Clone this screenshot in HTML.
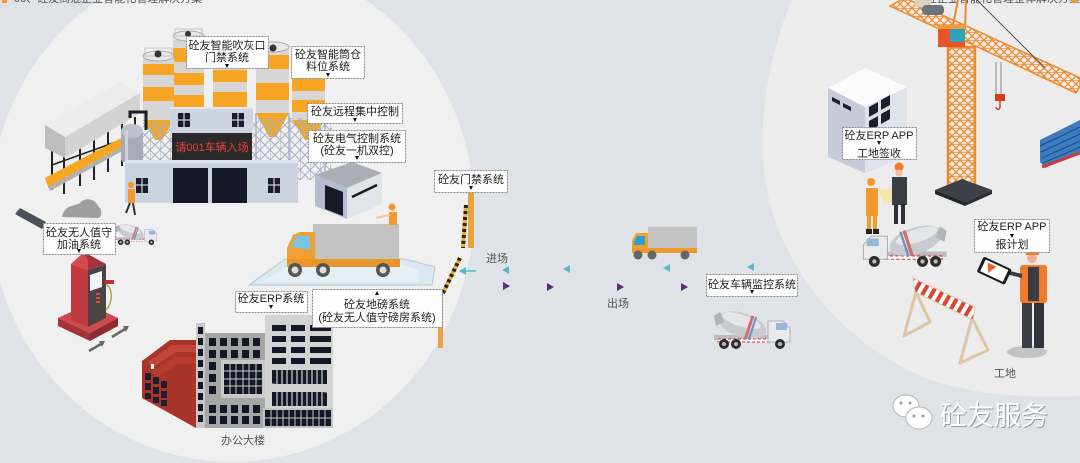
<!DOCTYPE html>
<html><head><meta charset="utf-8"><style>
html,body{margin:0;padding:0;background:#dfe2e6;}
svg{display:block;}
</style></head><body>
<svg width="1080" height="463" viewBox="0 0 1080 463" xmlns="http://www.w3.org/2000/svg" font-family="'Liberation Sans','Noto Sans CJK SC',sans-serif">
<defs>
<pattern id="lat" width="8" height="8" patternUnits="userSpaceOnUse"><path d="M0,0 L8,8 M8,0 L0,8 M0,0 L8,0" stroke="#ef8a2c" stroke-width="1.3" fill="none"/></pattern>
<pattern id="sl" width="10" height="10" patternUnits="userSpaceOnUse"><path d="M0,0 L10,10 M10,0 L0,10 M0,0 L0,10" stroke="#a3b0c5" stroke-width="1" fill="none"/></pattern>
<pattern id="rw" width="8" height="8" patternUnits="userSpaceOnUse" patternTransform="rotate(30)"><rect width="8" height="8" fill="#fff"/><rect width="4" height="8" fill="#d9452e"/></pattern>
<symbol id="mixer" viewBox="0 0 84 42">
  <rect x="4" y="27" width="74" height="5" fill="#b9bcc0"/>
  <rect x="8" y="31" width="52" height="3" fill="#fff" stroke="#d33" stroke-width="1" stroke-dasharray="3,2"/>
  <g transform="rotate(18 32 17)">
    <ellipse cx="32" cy="17" rx="25" ry="12" fill="#c8cbcf"/>
    <ellipse cx="30" cy="13" rx="20" ry="6" fill="#e4e6e8"/>
    <rect x="38" y="5" width="3" height="24" fill="#d86a6a"/>
    <rect x="42" y="5" width="2" height="24" fill="#6a8ec6"/>
  </g>
  <path d="M4,8 L10,4 L14,14 L6,18 Z" fill="#b0b3b7"/>
  <path d="M58,13 L73,13 L80,21 L80,34 L58,34 Z" fill="#e9eaec" stroke="#a3a6aa" stroke-width="0.8"/>
  <rect x="66" y="15" width="11" height="7" fill="#93b8d8"/>
  <circle cx="14" cy="36" r="5" fill="#2d2d2d"/><circle cx="14" cy="36" r="2" fill="#bbb"/>
  <circle cx="26" cy="36" r="5" fill="#2d2d2d"/><circle cx="26" cy="36" r="2" fill="#bbb"/>
  <circle cx="70" cy="36" r="5" fill="#2d2d2d"/><circle cx="70" cy="36" r="2" fill="#bbb"/>
</symbol>
</defs>

<rect width="1080" height="463" fill="#dfe2e6"/>
<ellipse cx="232" cy="210" rx="242" ry="252" fill="#f1f0f0"/>
<path d="M792,0 C770,50 758,120 764,170 C772,250 830,340 930,380 C980,396 1030,398 1080,396 L1080,0Z" fill="#ececec"/>

<!-- top partial titles -->
<rect x="2" y="-2" width="5" height="5" fill="#f29a2e"/>
<text x="14" y="2" font-size="11" fill="#555">06、砼友商混企业智能化管理解决方案</text>
<text x="915" y="2" font-size="11" fill="#555">商砼企业智能化管理整体解决方案(下)</text>
<rect x="1072" y="-2" width="5" height="5" fill="#f29a2e"/>

<!-- conveyor / aggregate shed -->
<g stroke="#222" stroke-width="2">
  <line x1="52" y1="148" x2="52" y2="190"/><line x1="64" y1="156" x2="64" y2="194"/>
  <line x1="80" y1="148" x2="80" y2="186"/><line x1="94" y1="140" x2="94" y2="180"/>
  <line x1="108" y1="132" x2="108" y2="172"/><line x1="122" y1="124" x2="122" y2="166"/>
  <line x1="135" y1="117" x2="135" y2="160"/>
  <line x1="52" y1="165" x2="135" y2="135" stroke-width="1.5"/>
</g>
<polygon points="45,178 140,128 142,136 48,187" fill="#f5a623"/>
<polygon points="48,187 142,136 142,140 50,191" fill="#b0b0b0"/>
<polygon points="45,125 120,82 140,93 65,137" fill="#ececec"/>
<polygon points="65,137 140,93 140,113 65,158" fill="#d3d3d3"/>
<polygon points="45,125 65,137 65,158 45,148" fill="#bdbdbd"/>

<!-- silos -->
<g>
  <rect x="173" y="40" width="31" height="70" fill="#d6d6d6"/>
  <rect x="173" y="48" width="31" height="14" fill="#f6a623"/>
  <rect x="173" y="73" width="31" height="12" fill="#f6a623"/>
  <rect x="173" y="95" width="31" height="14" fill="#f6a623"/>
  <ellipse cx="188.5" cy="36" rx="15.5" ry="5" fill="#e8e8e8" stroke="#aaa"/>
  <rect x="175" y="29" width="27" height="7" fill="none" stroke="#bbb" stroke-width="0.8"/>
  <circle cx="188" cy="34" r="3" fill="#333"/>
  <rect x="213" y="62" width="34" height="50" fill="#d6d6d6"/>
  <rect x="213" y="70" width="34" height="12" fill="#f6a623"/>
  <rect x="213" y="92" width="34" height="16" fill="#f6a623"/>
  <rect x="143" y="58" width="31" height="62" fill="#d6d6d6"/>
  <rect x="143" y="64" width="31" height="11" fill="#f6a623"/>
  <rect x="143" y="87" width="31" height="14" fill="#f6a623"/>
  <polygon points="143,120 174,120 162,140 155,140" fill="#f6a623"/>
  <ellipse cx="158.5" cy="56" rx="15.5" ry="5" fill="#e8e8e8" stroke="#aaa"/>
  <rect x="145" y="48" width="27" height="8" fill="none" stroke="#bbb" stroke-width="0.8"/>
  <circle cx="158" cy="54" r="3.5" fill="#333"/>
  <rect x="143" y="122" width="31" height="38" fill="url(#sl)"/>
  <rect x="256" y="48" width="33" height="65" fill="#d6d6d6"/>
  <rect x="256" y="55" width="33" height="14" fill="#f6a623"/>
  <rect x="256" y="83" width="33" height="17" fill="#f6a623"/>
  <polygon points="256,113 289,113 276,137 269,137" fill="#f6a623"/>
  <ellipse cx="272.5" cy="47" rx="16.5" ry="5" fill="#e8e8e8" stroke="#aaa"/>
  <circle cx="273" cy="48" r="3.5" fill="#333"/>
  <rect x="292" y="70" width="33" height="50" fill="#d6d6d6"/>
  <rect x="292" y="78" width="33" height="13" fill="#f6a623"/>
  <rect x="292" y="100" width="33" height="12" fill="#f6a623"/>
  <polygon points="292,120 325,120 312,140 305,140" fill="#f6a623"/>
  <rect x="250" y="118" width="82" height="62" fill="url(#sl)"/>
  <line x1="256" y1="113" x2="256" y2="178" stroke="#a3b0c5" stroke-width="1.5"/>
  <line x1="289" y1="113" x2="289" y2="178" stroke="#a3b0c5" stroke-width="1.5"/>
  <line x1="325" y1="120" x2="325" y2="182" stroke="#a3b0c5" stroke-width="1.5"/>
</g>

<!-- tank & pipes -->
<path d="M130,118 L130,112 L146,112 L146,130" stroke="#1e1e1e" stroke-width="3" fill="none"/>
<rect x="121" y="130" width="22" height="32" rx="3" fill="#a9aab8"/>
<ellipse cx="132" cy="131" rx="11" ry="7" fill="#c0c1cd"/>
<rect x="125" y="130" width="3" height="30" fill="#cfd0da"/>

<!-- control building -->
<rect x="170" y="107" width="83" height="26" fill="#cdd5e1"/>
<rect x="170" y="107" width="83" height="2" fill="#e2e7ef"/>
<g fill="#1a1c2c">
  <rect x="178" y="113" width="12" height="14"/><rect x="232" y="113" width="12" height="14"/>
</g>
<g stroke="#cdd5e1" stroke-width="1.2">
  <line x1="184" y1="113" x2="184" y2="127"/><line x1="178" y1="120" x2="190" y2="120"/>
  <line x1="238" y1="113" x2="238" y2="127"/><line x1="232" y1="120" x2="244" y2="120"/>
</g>
<rect x="172" y="133" width="80" height="27" fill="#2a2a2a"/>
<text x="212" y="151" font-size="11" fill="#e8423d" text-anchor="middle">请001车辆入场</text>

<!-- main building -->
<rect x="125" y="160" width="173" height="43" fill="#cbd3df"/>
<rect x="125" y="160" width="173" height="3" fill="#dfe5ee"/>
<rect x="173" y="168" width="35" height="35" fill="#141828"/>
<rect x="212" y="168" width="35" height="35" fill="#141828"/>
<rect x="136" y="178" width="12" height="15" fill="#1a1c2c"/>
<rect x="268" y="178" width="12" height="15" fill="#1a1c2c"/>
<g stroke="#cbd3df" stroke-width="1.2">
  <line x1="142" y1="178" x2="142" y2="193"/><line x1="136" y1="185" x2="148" y2="185"/>
  <line x1="274" y1="178" x2="274" y2="193"/><line x1="268" y1="185" x2="280" y2="185"/>
</g>

<!-- shed -->
<polygon points="315,175 352,162 382,173 347,188" fill="#abaeb5"/>
<polygon points="315,175 347,188 347,219 315,206" fill="#b5bccf"/>
<polygon points="347,188 382,173 382,204 347,219" fill="#e0e4eb"/>
<polygon points="325,185 343,192 343,216 325,209" fill="#161a28"/>
<line x1="352" y1="197" x2="377" y2="185" stroke="#1a1a1a" stroke-width="2.5"/>

<!-- worker near plant -->
<g>
  <circle cx="131" cy="185" r="3.2" fill="#f29a2e"/>
  <rect x="128" y="189" width="7" height="14" fill="#f29a2e"/>
  <line x1="130" y1="203" x2="126" y2="213" stroke="#333" stroke-width="2"/>
  <line x1="133" y1="203" x2="135" y2="215" stroke="#333" stroke-width="2"/>
</g>

<!-- rubble & beam -->
<path d="M62,217 C64,205 75,206 80,203 C86,196 96,200 98,206 C103,210 102,217 98,218 Z" fill="#9e9e9e"/>
<polygon points="15,214 20,208 46,222 42,229" fill="#4b4f58"/>

<!-- small mixer near fuel -->
<use href="#mixer" x="113" y="222" width="46" height="24"/>

<!-- fuel pump -->
<polygon points="58,318 88,304 118,318 90,333" fill="#cf4a4c"/>
<polygon points="58,318 90,333 90,341 58,326" fill="#a8323a"/>
<polygon points="90,333 118,318 118,326 90,341" fill="#8e2a30"/>
<polygon points="71,264 88,270 88,327 71,320" fill="#c0393f"/>
<polygon points="88,270 106,264 106,318 88,327" fill="#4a4444"/>
<polygon points="71,264 84,252 88,262 88,270" fill="#d44a4e"/>
<polygon points="84,252 106,264 88,270 88,262" fill="#a8323a"/>
<polygon points="90,275 102,271 102,287 90,291" fill="#f4f4f4"/>
<g fill="#e04a4a"><rect x="96" y="293" width="4" height="2"/><rect x="96" y="297" width="4" height="2"/><rect x="96" y="301" width="4" height="2"/></g>
<path d="M106,284 C114,290 112,304 106,310" stroke="#b8a050" stroke-width="1.5" fill="none"/>
<rect x="105" y="280" width="9" height="4" fill="#c03030"/>
<g stroke="#666" stroke-width="2.5" fill="none">
  <line x1="89" y1="351" x2="101" y2="344"/><line x1="112" y1="337" x2="125" y2="329"/>
</g>
<polygon points="99,341 105,341 102,347" fill="#666"/>
<polygon points="123,326 129,326 126,332" fill="#666"/>

<!-- weighbridge -->
<polygon points="249,285 285,259 405,259 435,267 432,285" fill="#dbe8f0" stroke="#b5c8d6"/>
<polygon points="262,282 290,264 400,264 420,270 418,282" fill="#e6eff5"/>
<rect x="313" y="224" width="86" height="36" fill="#c3c3c3"/>
<polygon points="287,248 293,235 300,232 315,232 315,262 287,262" fill="#f0a030"/>
<polygon points="291,247 296,236 310,236 310,250" fill="#7fc4df"/>
<rect x="287" y="259" width="113" height="8" fill="#e8962a"/>
<g><circle cx="295" cy="270" r="7" fill="#555"/><circle cx="295" cy="270" r="3.5" fill="#ddd"/>
<circle cx="323" cy="270" r="7" fill="#555"/><circle cx="323" cy="270" r="3.5" fill="#ddd"/>
<circle cx="383" cy="270" r="7" fill="#555"/><circle cx="383" cy="270" r="3.5" fill="#ddd"/></g>
<g>
  <circle cx="392" cy="207" r="3.5" fill="#f29a2e"/>
  <rect x="389" y="212" width="8" height="13" fill="#f29a2e"/>
  <line x1="390" y1="215" x2="376" y2="218" stroke="#f0c8a0" stroke-width="2"/>
</g>

<!-- office building -->
<polygon points="142,361 170,340 196,340 196,428 142,398" fill="#a93429"/>
<polygon points="148,362 172,345 196,345 196,352 176,352 152,368" fill="#c2453a"/>
<polygon points="152,372 174,357 196,357 196,364 178,364 156,378" fill="#b83b30"/>
<g fill="#1e2030">
  <rect x="145" y="373" width="6" height="7"/><rect x="153" y="377" width="6" height="7"/><rect x="161" y="381" width="6" height="7"/>
  <rect x="145" y="383" width="6" height="7"/><rect x="153" y="387" width="6" height="7"/><rect x="161" y="391" width="6" height="7"/>
  <rect x="145" y="393" width="6" height="6"/><rect x="153" y="397" width="6" height="6"/><rect x="161" y="400" width="6" height="6"/>
</g>
<rect x="151" y="364" width="3" height="5" fill="#fff"/>
<rect x="196" y="323" width="9" height="105" fill="#c8c8c8"/>
<g fill="#141726">
  <rect x="198" y="327" width="5" height="7"/><rect x="198" y="338" width="5" height="7"/><rect x="198" y="349" width="5" height="7"/>
  <rect x="198" y="360" width="5" height="7"/><rect x="198" y="371" width="5" height="7"/><rect x="198" y="382" width="5" height="7"/>
  <rect x="198" y="393" width="5" height="7"/><rect x="198" y="404" width="5" height="7"/><rect x="198" y="415" width="5" height="7"/>
</g>
<rect x="205" y="333" width="60" height="95" fill="#a6a6a6"/>
<rect x="221" y="360" width="44" height="38" fill="#c9c9c9"/>
<g fill="#141726">
  <rect x="209" y="338" width="7" height="8"/><rect x="220" y="338" width="7" height="8"/><rect x="231" y="338" width="7" height="8"/><rect x="242" y="338" width="7" height="8"/><rect x="253" y="338" width="7" height="8"/>
  <rect x="209" y="350" width="7" height="8"/><rect x="220" y="350" width="7" height="8"/><rect x="231" y="350" width="7" height="8"/><rect x="242" y="350" width="7" height="8"/><rect x="253" y="350" width="7" height="8"/>
  <rect x="209" y="362" width="7" height="8"/><rect x="209" y="374" width="7" height="8"/><rect x="209" y="386" width="7" height="8"/>
  <rect x="209" y="405" width="7" height="8"/><rect x="220" y="405" width="7" height="8"/><rect x="231" y="405" width="7" height="8"/><rect x="242" y="405" width="7" height="8"/><rect x="253" y="405" width="7" height="8"/>
  <rect x="209" y="416" width="7" height="8"/><rect x="220" y="416" width="7" height="8"/><rect x="231" y="416" width="7" height="8"/><rect x="242" y="416" width="7" height="8"/><rect x="253" y="416" width="7" height="8"/>
  <rect x="224" y="364" width="38" height="30"/>
</g>
<g stroke="#c9c9c9" stroke-width="1">
  <line x1="230" y1="364" x2="230" y2="394"/><line x1="236" y1="364" x2="236" y2="394"/><line x1="243" y1="364" x2="243" y2="394"/><line x1="249" y1="364" x2="249" y2="394"/><line x1="256" y1="364" x2="256" y2="394"/>
  <line x1="224" y1="371" x2="262" y2="371"/><line x1="224" y1="379" x2="262" y2="379"/><line x1="224" y1="386" x2="262" y2="386"/>
</g>
<rect x="265" y="315" width="68" height="95" fill="#d3d3d3"/>
<g fill="#141726">
  <rect x="272" y="325" width="14" height="6"/><rect x="291" y="325" width="14" height="6"/><rect x="310" y="325" width="21" height="6"/>
  <rect x="272" y="336" width="14" height="6"/><rect x="291" y="336" width="14" height="6"/><rect x="310" y="336" width="21" height="6"/>
  <rect x="272" y="347" width="14" height="6"/><rect x="291" y="347" width="14" height="6"/><rect x="310" y="347" width="21" height="6"/>
  <rect x="272" y="358" width="14" height="6"/><rect x="291" y="358" width="14" height="6"/><rect x="310" y="358" width="21" height="6"/>
  <rect x="272" y="370" width="55" height="14"/><rect x="272" y="392" width="55" height="14"/>
</g>
<g stroke="#d3d3d3" stroke-width="1.2">
  <line x1="277" y1="370" x2="277" y2="406"/><line x1="282" y1="370" x2="282" y2="406"/><line x1="287" y1="370" x2="287" y2="406"/><line x1="292" y1="370" x2="292" y2="406"/><line x1="297" y1="370" x2="297" y2="406"/><line x1="302" y1="370" x2="302" y2="406"/><line x1="307" y1="370" x2="307" y2="406"/><line x1="312" y1="370" x2="312" y2="406"/><line x1="317" y1="370" x2="317" y2="406"/><line x1="322" y1="370" x2="322" y2="406"/>
  <line x1="272" y1="384" x2="327" y2="392"/>
</g>
<rect x="263" y="408" width="70" height="20" fill="#c4c4c4"/>
<rect x="265" y="410" width="66" height="16" fill="#141726"/>
<g stroke="#c4c4c4" stroke-width="1">
  <line x1="265" y1="418" x2="331" y2="418"/>
  <line x1="271" y1="410" x2="271" y2="426"/><line x1="277" y1="410" x2="277" y2="426"/><line x1="283" y1="410" x2="283" y2="426"/><line x1="289" y1="410" x2="289" y2="426"/><line x1="295" y1="410" x2="295" y2="426"/><line x1="301" y1="410" x2="301" y2="426"/><line x1="307" y1="410" x2="307" y2="426"/><line x1="313" y1="410" x2="313" y2="426"/><line x1="319" y1="410" x2="319" y2="426"/><line x1="325" y1="410" x2="325" y2="426"/>
</g>
<text x="243" y="444" font-size="11" fill="#555" text-anchor="middle">办公大楼</text>

<!-- gate -->
<rect x="468" y="193" width="6" height="55" fill="#e8a33a"/>
<line x1="466" y1="205" x2="463" y2="248" stroke="#f0b030" stroke-width="4"/>
<line x1="466" y1="205" x2="463" y2="248" stroke="#222" stroke-width="4" stroke-dasharray="3,3"/>
<rect x="438" y="290" width="5" height="58" fill="#e8a33a"/>
<line x1="443" y1="293" x2="460" y2="258" stroke="#f0b030" stroke-width="4"/>
<line x1="443" y1="293" x2="460" y2="258" stroke="#222" stroke-width="4" stroke-dasharray="3,3"/>

<!-- flow arrows -->
<line x1="464" y1="271" x2="476" y2="271" stroke="#5bb8c9" stroke-width="1.5"/>
<polygon points="459,271 466,267 466,275" fill="#5bb8c9"/>
<g fill="#5bb8c9">
  <polygon points="502,270 509,266 509,274"/><polygon points="563,269 570,265 570,273"/>
  <polygon points="663,268 670,264 670,272"/><polygon points="747,267 754,263 754,271"/>
</g>
<g fill="#5b2d82">
  <polygon points="510,286 503,282 503,290"/><polygon points="554,287 547,283 547,291"/>
  <polygon points="624,287 617,283 617,291"/><polygon points="688,287 681,283 681,291"/>
</g>
<text x="497" y="262" font-size="11" fill="#555" text-anchor="middle">进场</text>
<text x="618" y="307" font-size="11" fill="#555" text-anchor="middle">出场</text>

<!-- middle truck -->
<rect x="648" y="227" width="49" height="25" fill="#c4c4c4"/>
<polygon points="632,241 636,233 648,233 648,253 632,253" fill="#f0a030"/>
<polygon points="634,242 637,236 645,236 645,245 634,245" fill="#2a9fd6"/>
<rect x="632" y="248" width="65" height="5" fill="#ec9a2c"/>
<circle cx="638" cy="255" r="4.5" fill="#666"/><circle cx="652" cy="255" r="4.5" fill="#666"/><circle cx="685" cy="255" r="4.5" fill="#666"/>

<!-- middle mixer -->
<use href="#mixer" x="710" y="308" width="84" height="42"/>

<!-- ===== right site ===== -->
<polygon points="1040,140 1080,120 1080,152 1045,168 1040,162" fill="#3d7cc0"/>
<g stroke="#1f4f85" stroke-width="1.2">
  <line x1="1040" y1="146" x2="1080" y2="127"/><line x1="1041" y1="152" x2="1080" y2="134"/><line x1="1042" y1="158" x2="1080" y2="141"/><line x1="1043" y1="163" x2="1080" y2="147"/>
</g>
<line x1="1042" y1="167" x2="1080" y2="153" stroke="#d23a3a" stroke-width="3"/>
<polygon points="905,-2 1080,78 1080,86 1076,93 890,6" fill="url(#lat)" stroke="#ef8a2c" stroke-width="1.5"/>
<rect x="948" y="47" width="27" height="140" fill="url(#lat)" stroke="#ef8a2c" stroke-width="2.5"/>
<line x1="952" y1="30" x2="958" y2="0" stroke="#ef8a2c" stroke-width="2"/>
<line x1="965" y1="30" x2="966" y2="0" stroke="#ef8a2c" stroke-width="2"/>
<rect x="915" y="-2" width="16" height="9" fill="#d9d2bd"/>
<rect x="922" y="5" width="22" height="10" rx="4" fill="#6f737b"/>
<rect x="938" y="25" width="27" height="22" fill="#e8542a"/>
<rect x="938" y="25" width="27" height="4" fill="#f39a3a"/>
<rect x="950" y="29" width="15" height="13" fill="#2fa3b8"/>
<line x1="977" y1="0" x2="1045" y2="68" stroke="#555" stroke-width="1"/>
<line x1="996" y1="62" x2="996" y2="95" stroke="#999" stroke-width="1.2"/>
<line x1="1001" y1="62" x2="1001" y2="95" stroke="#999" stroke-width="1.2"/>
<rect x="995" y="94" width="10" height="7" fill="#d04020"/>
<path d="M1000,101 L1000,107 C1000,110 996,110 996,107" stroke="#d04020" stroke-width="1.5" fill="none"/>
<polygon points="935,190 962,179 992,190 965,202" fill="#3c3f46"/>
<polygon points="935,190 965,202 965,206 935,194" fill="#24262b"/>
<polygon points="965,202 992,190 992,194 965,206" fill="#2c2e33"/>
<polygon points="828,88 865,68 907,87 865,107" fill="#fbfbfb"/>
<polygon points="828,88 865,107 865,173 828,157" fill="#c7cbd8"/>
<polygon points="865,107 907,87 907,157 865,173" fill="#dfe3ea"/>
<g fill="#1c1e2a">
  <polygon points="832,97 840,101 840,105 832,101"/><polygon points="843,103 851,107 851,111 843,107"/>
  <polygon points="869,107 878,102 878,112 869,117"/><polygon points="881,100 890,95 890,105 881,110"/>
  <polygon points="869,121 878,116 878,126 869,131"/><polygon points="881,114 890,109 890,119 881,124"/>
</g>
<g>
  <polygon points="878,190 900,186 906,200 884,204" fill="#f3e6b0"/>
  <circle cx="871" cy="182" r="4" fill="#f29a2e"/>
  <rect x="866" y="188" width="12" height="28" fill="#f29a2e"/>
  <rect x="867" y="216" width="4" height="14" fill="#f29a2e"/><rect x="873" y="216" width="4" height="14" fill="#f29a2e"/>
  <rect x="866" y="229" width="6" height="5" fill="#222"/><rect x="873" y="229" width="6" height="5" fill="#222"/>
  <circle cx="899" cy="167" r="4.5" fill="#f27a2a"/>
  <circle cx="899" cy="173" r="3.5" fill="#f0c09a"/>
  <rect x="892" y="177" width="15" height="28" fill="#3a3d45"/>
  <rect x="894" y="204" width="4" height="20" fill="#2e3037"/><rect x="901" y="204" width="4" height="20" fill="#2e3037"/>
</g>
<g transform="translate(952,222) scale(-1,1)"><use href="#mixer" x="0" y="0" width="94" height="46"/></g>
<g stroke="#dcc6a6" stroke-width="3" fill="none" stroke-linejoin="round">
  <polyline points="916,292 904,336 930,322 916,292"/>
  <polyline points="972,318 960,363 988,350 972,318"/>
</g>
<polygon points="913,278 975,307 973,320 915,292" fill="url(#rw)" stroke="#d9c9b0" stroke-width="1"/>
<ellipse cx="1027" cy="352" rx="20" ry="6" fill="#c4c4c4"/>
<rect x="1022" y="300" width="10" height="48" fill="#3a3c45"/><rect x="1034" y="300" width="10" height="48" fill="#31333b"/>
<rect x="1020" y="265" width="27" height="38" rx="3" fill="#f07a2a"/>
<rect x="1028" y="267" width="11" height="34" fill="#3a3c45"/>
<line x1="1022" y1="276" x2="1006" y2="272" stroke="#3a3c45" stroke-width="4"/>
<circle cx="1032" cy="258" r="5" fill="#f0b090"/>
<path d="M1026,255 A6,6 0 0 1 1039,255 Z" fill="#f27a2a"/>
<g transform="rotate(25 994 270)">
  <rect x="979" y="262" width="31" height="17" rx="2" fill="#1a1a1a"/>
  <rect x="982" y="264" width="25" height="13" fill="#fff"/>
  <polygon points="985,266 995,266 990,275" fill="#f0602a"/>
</g>
<text x="1005" y="377" font-size="11" fill="#555" text-anchor="middle">工地</text>

<!-- watermark -->
<g>
  <ellipse cx="906" cy="406" rx="13" ry="11" fill="#fff" stroke="#b5b5b5"/>
  <ellipse cx="919" cy="418" rx="13" ry="11" fill="#fff" stroke="#b5b5b5"/>
  <circle cx="901" cy="403" r="1.5" fill="#999"/><circle cx="910" cy="403" r="1.5" fill="#999"/>
  <circle cx="914" cy="416" r="1.5" fill="#999"/><circle cx="923" cy="416" r="1.5" fill="#999"/>
  <text x="941" y="426" font-size="27" fill="#9a9a9a">砼友服务</text>
  <text x="940" y="425" font-size="27" fill="#fff">砼友服务</text>
</g>

<!-- labels -->
<g font-size="11" fill="#1e1e1e" text-anchor="middle">
  <g stroke="#8a8a8a" stroke-width="1" stroke-dasharray="2,1" fill="#fdfdfd">
    <rect x="186.5" y="36.5" width="82" height="32"/>
    <rect x="291.5" y="46.5" width="73" height="32"/>
    <rect x="307.5" y="103.5" width="95" height="20"/>
    <rect x="308.5" y="130.5" width="97" height="32"/>
    <rect x="434.5" y="170.5" width="73" height="22"/>
    <rect x="43.5" y="223.5" width="72" height="31"/>
    <rect x="235.5" y="291.5" width="72" height="21"/>
    <rect x="312.5" y="289.5" width="130" height="38"/>
    <rect x="706.5" y="274.5" width="91" height="22"/>
    <rect x="842.5" y="127.5" width="74" height="32"/>
    <rect x="974.5" y="219.5" width="75" height="33"/>
  </g>
  <text x="227" y="49">砼友智能吹灰口</text><text x="227" y="61">门禁系统</text>
  <text x="328" y="58">砼友智能筒仓</text><text x="328" y="70">料位系统</text>
  <text x="355" y="115">砼友远程集中控制</text>
  <text x="357" y="142">砼友电气控制系统</text><text x="357" y="154">(砼友一机双控)</text>
  <text x="471" y="183">砼友门禁系统</text>
  <text x="79" y="236">砼友无人值守</text><text x="79" y="248">加油系统</text>
  <text x="271" y="302">砼友ERP系统</text>
  <text x="377" y="308">砼友地磅系统</text><text x="377" y="321">(砼友无人值守磅房系统)</text>
  <text x="752" y="288">砼友车辆监控系统</text>
  <text x="879" y="139">砼友ERP APP</text><text x="879" y="157">工地签收</text>
  <text x="1012" y="230">砼友ERP APP</text><text x="1012" y="248">报计划</text>
  <g fill="#111">
    <polygon points="225,64 229,64 227,68"/>
    <polygon points="326,73 330,73 328,77"/>
    <polygon points="353,118 357,118 355,122"/>
    <polygon points="355,156 359,156 357,160"/>
    <polygon points="469,186 473,186 471,190"/>
    <polygon points="77,249 81,249 79,253"/>
    <polygon points="269,305 273,305 271,309"/>
    <polygon points="375,295 379,295 377,291"/>
    <polygon points="750,290 754,290 752,294"/>
    <polygon points="877,141 881,141 879,145"/>
    <polygon points="1010,234 1014,234 1012,238"/>
  </g>
</g>
</svg>
</body></html>
